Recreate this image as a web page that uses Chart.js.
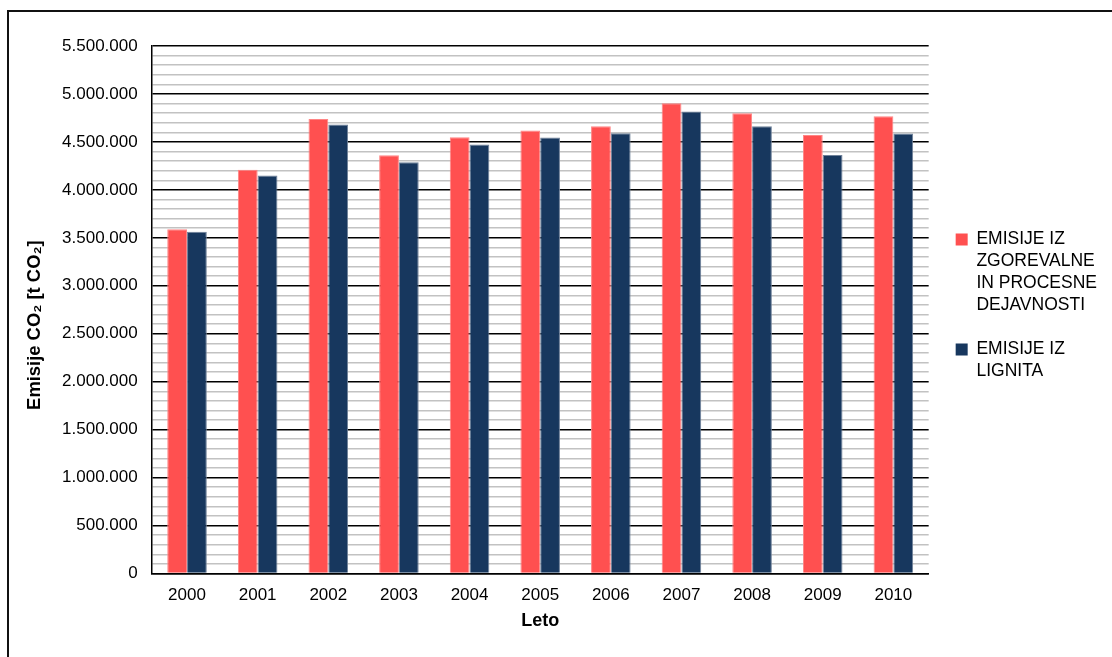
<!DOCTYPE html>
<html lang="sl">
<head>
<meta charset="utf-8">
<title>Emisije CO₂</title>
<script src="https://cdn.jsdelivr.net/npm/chart.js@4/dist/chart.umd.min.js"></script>
<style>
  html, body { margin: 0; padding: 0; background: #fff; }
  body { width: 1112px; height: 657px; overflow: hidden; position: relative; }
  #frame {
    position: absolute; left: 7px; top: 10px; width: 1200px; height: 800px;
    border-left: 2px solid #111; border-top: 2px solid #111; box-sizing: border-box;
  }
  #chart { position: absolute; left: 0; top: 0; }
</style>
</head>
<body>
<div id="frame"></div>
<canvas id="chart" width="1112" height="657"></canvas>
<script>
// Leta (kategorije na osi x)
const years = ['2000', '2001', '2002', '2003', '2004', '2005', '2006', '2007', '2008', '2009', '2010'];

// Emisije CO2 v tonah
const combustionProcess = [3590000, 4211000, 4740000, 4360000, 4548000, 4618000, 4663000, 4904000, 4799000, 4573000, 4768000];
const lignite = [3562000, 4151000, 4681000, 4287000, 4472000, 4545000, 4590000, 4817000, 4663000, 4363000, 4587000];

// Imena serij in njihove vrstice v legendi
const seriesNames = ['EMISIJE IZ ZGOREVALNE IN PROCESNE DEJAVNOSTI', 'EMISIJE IZ LIGNITA'];
const legendLines = [
  ['EMISIJE IZ', 'ZGOREVALNE', 'IN PROCESNE', 'DEJAVNOSTI'],
  ['EMISIJE IZ', 'LIGNITA']
];

// Os y
const yMin = 0;
const yMax = 5500000;
const yMinorStep = 100000;
const yMajorStep = 500000;

// Naslov osi y je nekoliko pomaknjen navzdol (presledki na koncu)
const axisTitleY = 'Emisije CO₂ [t CO₂]      ';
const axisTitleX = 'Leto';

const FONT = "'Liberation Sans', Arial, Helvetica, sans-serif";

function formatThousands(v) {
  return String(Math.round(v)).replace(/\B(?=(\d{3})+(?!\d))/g, '.');
}

// Legenda je za nekaj pikslov odmaknjena od risalne površine
const legendShift = {
  id: 'legendShift',
  afterLayout(chart) {
    const lg = chart.legend;
    if (lg) {
      lg.left += 5; lg.right += 5;
      lg.top -= 2; lg.bottom -= 2;
    }
  }
};

new Chart(document.getElementById('chart'), {
  type: 'bar',
  data: {
    labels: years,
    datasets: [
      {
        label: seriesNames[0],
        data: combustionProcess,
        backgroundColor: '#FF5050',
        borderColor: '#FF8585',
        borderWidth: 1
      },
      {
        label: seriesNames[1],
        data: lignite,
        backgroundColor: '#17375E',
        borderColor: '#6F8199',
        borderWidth: 1
      }
    ]
  },
  options: {
    responsive: false,
    animation: false,
    devicePixelRatio: 1,
    layout: { padding: { left: 20, top: 46, right: 10, bottom: 20 } },
    datasets: {
      bar: { categoryPercentage: 0.56, barPercentage: 1.0 }
    },
    plugins: {
      tooltip: { enabled: false },
      legend: {
        position: 'right',
        align: 'center',
        fullSize: false,
        labels: {
          color: '#000',
          font: { family: FONT, size: 17.5, lineHeight: 1.2571 },
          boxWidth: 12,
          boxHeight: 12,
          padding: 22,
          generateLabels(chart) {
            const items = Chart.defaults.plugins.legend.labels.generateLabels(chart);
            items.forEach((it, i) => {
              it.text = legendLines[i];
              it.strokeStyle = it.fillStyle;
              it.lineWidth = 0;
            });
            return items;
          }
        }
      }
    },
    scales: {
      x: {
        grid: { display: false, drawTicks: false },
        border: { display: true, color: '#000', width: 1.5 },
        ticks: {
          color: '#000',
          font: { family: FONT, size: 17 },
          padding: 11.5,
          maxRotation: 0
        },
        title: {
          display: true,
          text: axisTitleX,
          color: '#000',
          font: { family: FONT, size: 18, weight: 'bold' },
          padding: { top: -6.5, bottom: 5 }
        }
      },
      y: {
        min: yMin,
        max: yMax,
        grid: {
          drawTicks: false,
          color: ctx => (ctx.tick && ctx.tick.value % yMajorStep === 0) ? '#000' : '#C2C2C2',
          lineWidth: 1.5
        },
        border: { display: true, color: '#000', width: 1.5 },
        ticks: {
          stepSize: yMinorStep,
          autoSkip: false,
          color: '#000',
          font: { family: FONT, size: 17 },
          padding: 14,
          callback: v => (v % yMajorStep === 0) ? formatThousands(v) : ''
        },
        title: {
          display: true,
          text: axisTitleY,
          color: '#000',
          font: { family: FONT, size: 18.4, weight: 'bold' },
          padding: { top: 4, bottom: 2 }
        }
      }
    }
  },
  plugins: [legendShift]
});
</script>
</body>
</html>
